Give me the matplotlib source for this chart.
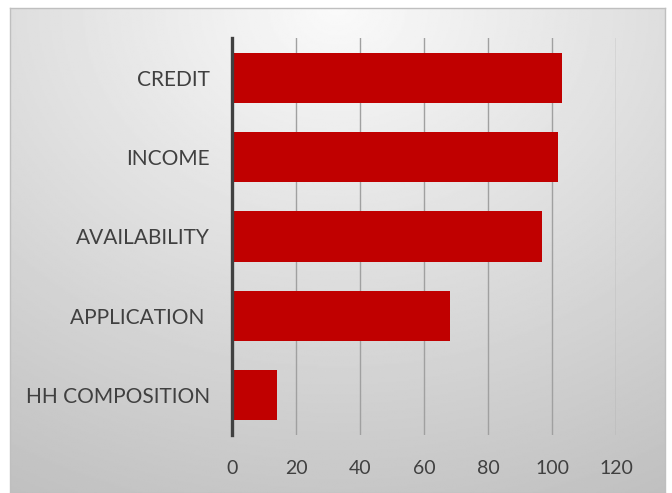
import numpy as np
import matplotlib.pyplot as plt

categories = ["HH COMPOSITION", "APPLICATION ", "AVAILABILITY", "INCOME", "CREDIT"]
values = [14, 68, 97, 102, 103]
x_ticks = [0, 20, 40, 60, 80, 100, 120]

plt.rcParams["font.family"] = ["Lato", "DejaVu Sans"]

fig = plt.figure(figsize=(6.72, 4.93), dpi=100)
fig.patch.set_facecolor("white")

# shaded chart area behind the plot
bg = fig.add_axes([10 / 672, 0, 655 / 672, 1 - 8 / 493])
yy, xx = np.mgrid[0:1:300j, 0:1:400j]
dist = np.sqrt(((xx - 0.5) * 1.1) ** 2 + (yy * 1.0) ** 2)
shade = np.clip(0.98 - 0.2 * dist, 0.74, 0.98)
bg.imshow(shade, cmap="gray", vmin=0, vmax=1, aspect="auto", extent=[0, 1, 1, 0])
bg.set_xticks([])
bg.set_yticks([])
for s in bg.spines.values():
    s.set_color("#bfbfbf")
    s.set_linewidth(1)

ax = fig.add_axes([232 / 672, 1 - 435 / 493, 384 / 672, 397 / 493])
ax.patch.set_alpha(0)

y = np.arange(len(categories))
ax.barh(y, values, height=0.63, color="#c00000", zorder=3)

ax.set_xlim(0, 120)
ax.set_ylim(-0.5, len(categories) - 0.5)
ax.set_xticks(x_ticks)
ax.set_yticks(y)
ax.set_yticklabels(categories)
ax.grid(axis="x", color="#a0a0a0", linewidth=1, zorder=0)

for side in ["top", "right", "bottom"]:
    ax.spines[side].set_visible(False)
ax.spines["left"].set_color("#404040")
ax.spines["left"].set_linewidth(2.4)
ax.spines["left"].set_zorder(4)

ax.tick_params(axis="y", length=0, pad=16, labelsize=15, labelcolor="#404040")
ax.tick_params(axis="x", length=0, pad=18, labelsize=14, labelcolor="#404040")

plt.savefig("out.png", dpi=100)
